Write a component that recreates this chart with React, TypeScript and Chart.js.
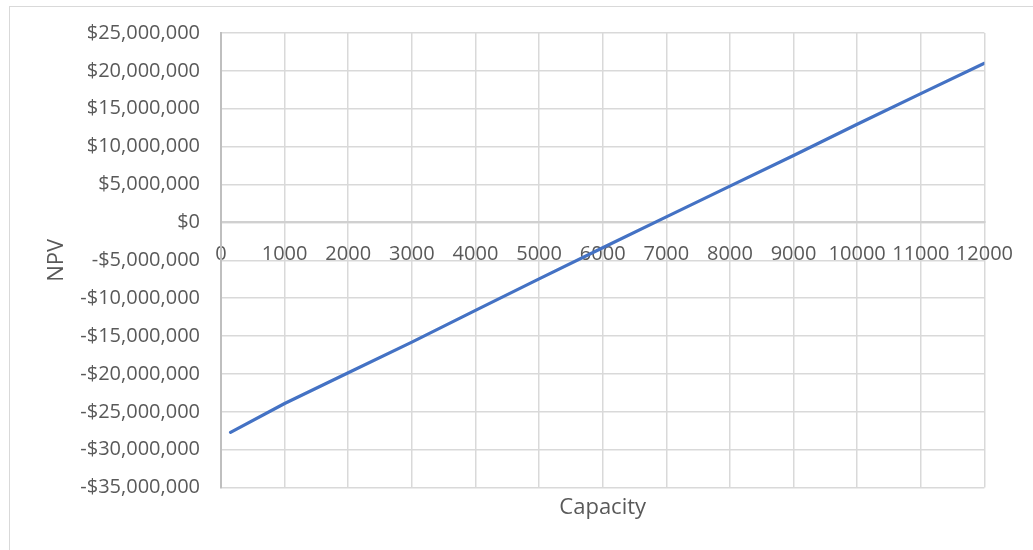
import React, { useEffect, useRef } from "react";
import { Chart, registerables } from "chart.js";

Chart.register(...registerables);

// Plant capacity (units) and the resulting net present value ($)
const capacity: number[] = [150, 1000, 2000, 3000, 4000, 5000, 6000, 7000, 8000, 9000, 10000, 11000, 12000];
const npv: number[] = [
  -27700000, -23900000, -19850000, -15800000, -11600000, -7450000, -3350000,
  730000, 4790000, 8840000, 12950000, 17000000, 21000000,
];

const xMin = 0;
const xMax = 12000;
const xStep = 1000;
const yMin = -35000000;
const yMax = 25000000;
const yStep = 5000000;

const xTitle = "Capacity";
const yTitle = "NPV";

const FONT = "'Open Sans', 'Noto Sans', sans-serif";
const TEXT = "#595959";
const GRID = "#d9d9d9";

const W = 1033;
const H = 550;
const LEFT_PAD = 44;
const PLOT_LEFT = 221;
const RIGHT_PAD = 45;

function money(v: number): string {
  const abs = Math.abs(v).toLocaleString("en-US");
  return (v < 0 ? "-$" : "$") + abs;
}

export default function App() {
  const ref = useRef<HTMLCanvasElement | null>(null);

  useEffect(() => {
    if (!ref.current) return;
    const chart = new Chart(ref.current, {
      type: "scatter",
      data: {
        datasets: [
          {
            label: yTitle,
            data: capacity.map((c, i) => ({ x: c, y: npv[i] })),
            showLine: true,
            borderColor: "#4472C4",
            backgroundColor: "#4472C4",
            borderWidth: 3.2,
            borderCapStyle: "round",
            borderJoinStyle: "round",
            pointRadius: 0,
            pointHoverRadius: 0,
            tension: 0,
          },
        ],
      },
      options: {
        responsive: false,
        animation: false,
        devicePixelRatio: 1,
        layout: { padding: { top: 33, left: LEFT_PAD, right: RIGHT_PAD, bottom: 0 } },
        plugins: {
          legend: { display: false },
          tooltip: { enabled: false },
          title: {
            display: true,
            position: "bottom",
            fullSize: false,
            text: xTitle,
            color: TEXT,
            font: { family: FONT, size: 22, weight: "normal", lineHeight: 1.2 },
            padding: { top: 7, bottom: 29 },
          },
        },
        scales: {
          x: {
            type: "linear",
            position: { y: 0 } as any,
            min: xMin,
            max: xMax,
            afterFit: (s: any) => {
              s.height = 0;
            },
            ticks: {
              stepSize: xStep,
              color: TEXT,
              padding: 20,
              maxRotation: 0,
              autoSkip: false,
              font: { family: FONT, size: 20 },
              callback: (v: any) => String(v),
            },
            grid: { color: GRID, lineWidth: 1.5, drawTicks: false },
            border: { display: true, color: "#d0d0d0", width: 2 },
          },
          y: {
            type: "linear",
            position: "left",
            min: yMin,
            max: yMax,
            afterFit: (s: any) => {
              s.width = PLOT_LEFT - LEFT_PAD;
            },
            ticks: {
              stepSize: yStep,
              color: TEXT,
              padding: 21,
              font: { family: FONT, size: 20 },
              callback: (v: any) => money(Number(v)),
            },
            grid: { color: GRID, lineWidth: 1.5, drawTicks: false },
            border: { display: true, color: "#bfbfbf", width: 2 },
            title: {
              display: true,
              text: yTitle,
              color: TEXT,
              padding: 0,
              font: { family: FONT, size: 22, lineHeight: 1.2 },
            },
          },
        },
      },
    });
    return () => chart.destroy();
  }, []);

  return (
    <div style={{ position: "fixed", left: 0, top: 0, width: W, height: H, overflow: "hidden", background: "#fff" }}>
      <div
        style={{
          position: "absolute",
          left: 9,
          top: 6,
          width: W + 40,
          height: H + 40,
          border: "1px solid #d9d9d9",
          boxSizing: "border-box",
        }}
      />
      <canvas ref={ref} width={W} height={H} style={{ position: "absolute", left: 0, top: 0 }} />
    </div>
  );
}
